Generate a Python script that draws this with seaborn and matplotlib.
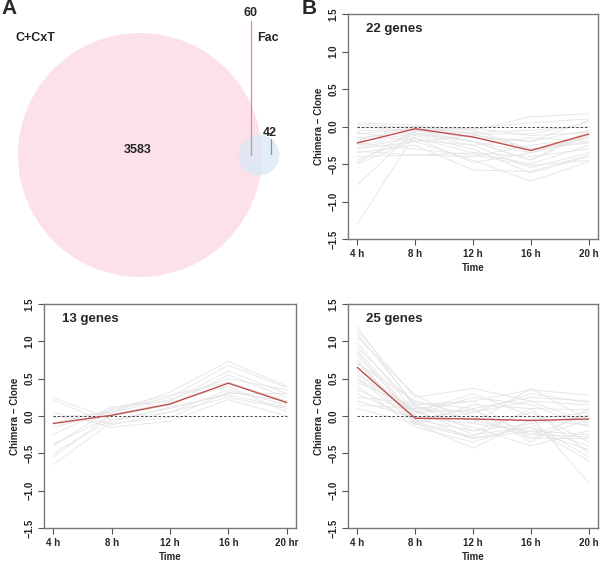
import numpy as np
import pandas as pd
import matplotlib
matplotlib.use('Agg')
import matplotlib.pyplot as plt
from matplotlib.patches import Circle
import seaborn as sns

# Venn counts
set_names = ['C+CxT', 'Fac']
only_cxt = 3583
shared = 60
only_fac = 42

times = [4, 8, 12, 16, 20]
time_labels = ['4 h', '8 h', '12 h', '16 h', '20 h']
time_labels_bl = ['4 h', '8 h', '12 h', '16 h', '20 hr']

# 22 genes (top right)
genes_a = [
    [-1.30, -0.10, -0.20, -0.35, -0.15],
    [-0.78, -0.05, -0.10, -0.30, -0.20],
    [0.05, 0.02, -0.05, 0.13, 0.17],
    [0.03, -0.02, -0.02, 0.05, 0.10],
    [-0.02, 0.00, -0.10, -0.10, 0.05],
    [-0.05, -0.05, -0.15, -0.20, -0.05],
    [-0.10, -0.03, -0.08, -0.05, 0.00],
    [-0.15, -0.08, -0.20, -0.45, -0.10],
    [-0.20, -0.10, -0.25, -0.55, -0.35],
    [-0.25, -0.12, -0.30, -0.62, -0.40],
    [-0.28, -0.15, -0.35, -0.50, -0.25],
    [-0.30, -0.20, -0.45, -0.73, -0.47],
    [-0.33, -0.38, -0.35, -0.40, -0.30],
    [-0.35, -0.25, -0.58, -0.60, -0.38],
    [-0.40, -0.38, -0.40, -0.25, -0.15],
    [-0.45, -0.15, -0.48, -0.35, -0.12],
    [-0.48, -0.05, -0.20, -0.45, -0.05],
    [-0.50, -0.18, -0.25, -0.15, -0.20],
    [-0.18, 0.00, -0.05, -0.30, -0.22],
    [-0.08, -0.20, -0.12, -0.20, 0.08],
    [-0.22, -0.30, -0.38, -0.52, -0.45],
    [0.00, -0.06, -0.02, -0.12, -0.08],
]
mean_a = [-0.22, -0.03, -0.14, -0.32, -0.10]

# 13 genes (bottom left)
genes_b = [
    [0.25, -0.05, 0.10, 0.30, 0.30],
    [0.22, -0.12, 0.05, 0.25, 0.10],
    [0.05, -0.15, -0.07, 0.22, 0.00],
    [-0.02, 0.05, 0.32, 0.73, 0.40],
    [-0.10, 0.08, 0.25, 0.68, 0.38],
    [-0.25, 0.12, 0.20, 0.60, 0.30],
    [-0.38, 0.00, 0.15, 0.55, 0.25],
    [-0.40, 0.10, 0.28, 0.45, 0.20],
    [-0.50, -0.05, 0.05, 0.35, 0.15],
    [-0.55, 0.02, 0.18, 0.40, 0.05],
    [-0.65, -0.08, 0.12, 0.28, 0.12],
    [0.00, -0.10, -0.02, 0.32, 0.20],
    [-0.15, 0.05, 0.22, 0.50, 0.35],
]
mean_b = [-0.10, 0.01, 0.16, 0.44, 0.18]

# 25 genes (bottom right)
genes_c = [
    [1.20, 0.10, 0.20, 0.35, 0.28],
    [1.15, 0.25, 0.37, 0.20, 0.15],
    [1.05, 0.28, -0.10, 0.37, -0.05],
    [0.98, 0.05, 0.30, 0.00, -0.90],
    [0.92, 0.15, -0.20, -0.10, -0.55],
    [0.85, -0.05, 0.10, 0.25, 0.20],
    [0.80, 0.00, -0.30, -0.20, -0.45],
    [0.75, -0.10, -0.43, -0.05, 0.05],
    [0.70, 0.20, 0.00, -0.30, -0.30],
    [0.65, 0.05, -0.15, -0.40, -0.20],
    [0.60, -0.12, 0.15, 0.10, 0.08],
    [0.55, 0.08, -0.25, -0.15, -0.60],
    [0.50, -0.08, 0.05, 0.20, -0.10],
    [0.45, 0.12, -0.05, -0.25, -0.28],
    [0.40, -0.15, -0.35, -0.10, 0.00],
    [0.35, 0.02, 0.25, 0.15, -0.15],
    [0.30, -0.05, -0.20, 0.05, -0.35],
    [0.25, 0.18, 0.10, -0.35, 0.10],
    [0.20, -0.02, -0.10, -0.20, -0.25],
    [0.15, 0.10, 0.05, 0.30, 0.18],
    [0.10, -0.10, -0.30, -0.15, -0.40],
    [0.88, 0.00, -0.05, -0.05, -0.12],
    [1.10, 0.15, 0.20, -0.30, -0.05],
    [0.72, -0.08, -0.28, 0.10, -0.50],
    [0.50, 0.05, 0.08, -0.25, 0.02],
]
mean_c = [0.65, -0.03, -0.04, -0.06, -0.04]

sns.set_style('white')
plt.rcParams['font.family'] = ['Liberation Sans', 'DejaVu Sans']
plt.rcParams['font.weight'] = 'bold'

fig = plt.figure(figsize=(6, 5.62), dpi=100)
W, H = 600, 562


def box(l, t, r, b):
    return [l / W, 1 - b / H, (r - l) / W, (b - t) / H]


# Panel A - Venn
axv = fig.add_axes([0, 1 - 290 / H, 0.5, 290 / H])
axv.set_xlim(0, 300)
axv.set_ylim(290, 0)
axv.axis('off')
n_big = only_cxt + shared
n_small = shared + only_fac
r_big = 122
r_small = r_big * np.sqrt(n_small / n_big)
axv.add_patch(Circle((140, 155), r_big, color='#fde1ea', lw=0))
axv.add_patch(Circle((259, 155), r_small, color='#d7e9f6', alpha=0.75, lw=0))
axv.text(138, 150, str(only_cxt), ha='center', va='center', fontsize=9, fontweight='bold')
axv.plot([251, 251], [21, 155], color='#e08a8a', lw=0.9)
axv.text(251, 13, str(shared), ha='center', va='center', fontsize=9, fontweight='bold')
axv.plot([271, 271], [139, 154], color='#8090c8', lw=0.9)
axv.text(270, 133, str(only_fac), ha='center', va='center', fontsize=9, fontweight='bold')
axv.text(35, 38, set_names[0], ha='center', va='center', fontsize=9, fontweight='bold')
axv.text(268, 38, set_names[1], ha='center', va='center', fontsize=9, fontweight='bold')
fig.text(1 / W, 1 - 8 / H, 'A', fontsize=15, fontweight='bold', va='center', ha='left')
fig.text(302 / W, 1 - 8 / H, 'B', fontsize=15, fontweight='bold', va='center', ha='left')


def gene_panel(ax, genes, mean, title, labels):
    df = pd.DataFrame([(g, t, v) for g, row in enumerate(genes) for t, v in zip(times, row)],
                      columns=['gene', 'time', 'value'])
    sns.lineplot(data=df, x='time', y='value', units='gene', estimator=None,
                 color='#e4e4e4', lw=0.6, ax=ax)
    ax.plot([times[0], times[-1]], [0, 0], color='#444444', lw=0.7, ls=(0, (2.5, 2)))
    sns.lineplot(x=times, y=mean, color='#c0504d', lw=1.0, ax=ax)
    ax.set_xlim(3.36, 20.64)
    ax.set_ylim(-1.5, 1.5)
    ax.set_xticks(times)
    ax.set_xticklabels(labels)
    ax.set_yticks([-1.5, -1.0, -0.5, 0.0, 0.5, 1.0, 1.5])
    ax.set_yticklabels(['\u22121.5', '\u22121.0', '\u22120.5', '0.0', '0.5', '1.0', '1.5'],
                       rotation=90, va='center')
    ax.tick_params(axis='both', direction='out', length=4, width=0.8, color='#555555',
                   labelsize=7, pad=3, bottom=True, left=True)
    for lab in ax.get_xticklabels() + ax.get_yticklabels():
        lab.set_fontweight('bold')
    for s in ax.spines.values():
        s.set_color('#777777')
        s.set_linewidth(1.0)
    ax.set_xlabel('Time', fontsize=7, fontweight='bold', labelpad=3)
    ax.set_ylabel('Chimera \u2212 Clone', fontsize=7, fontweight='bold', labelpad=3)
    ax.text(0.07, 0.96, title, transform=ax.transAxes, fontsize=9.5,
            fontweight='bold', va='top', ha='left')


ax1 = fig.add_axes(box(348, 14, 598, 239))
gene_panel(ax1, genes_a, mean_a, f'{len(genes_a)} genes', time_labels)
ax2 = fig.add_axes(box(44, 304, 296, 528))
gene_panel(ax2, genes_b, mean_b, f'{len(genes_b)} genes', time_labels_bl)
ax3 = fig.add_axes(box(348, 304, 598, 528))
gene_panel(ax3, genes_c, mean_c, f'{len(genes_c)} genes', time_labels)

plt.savefig('out.png', dpi=100)
